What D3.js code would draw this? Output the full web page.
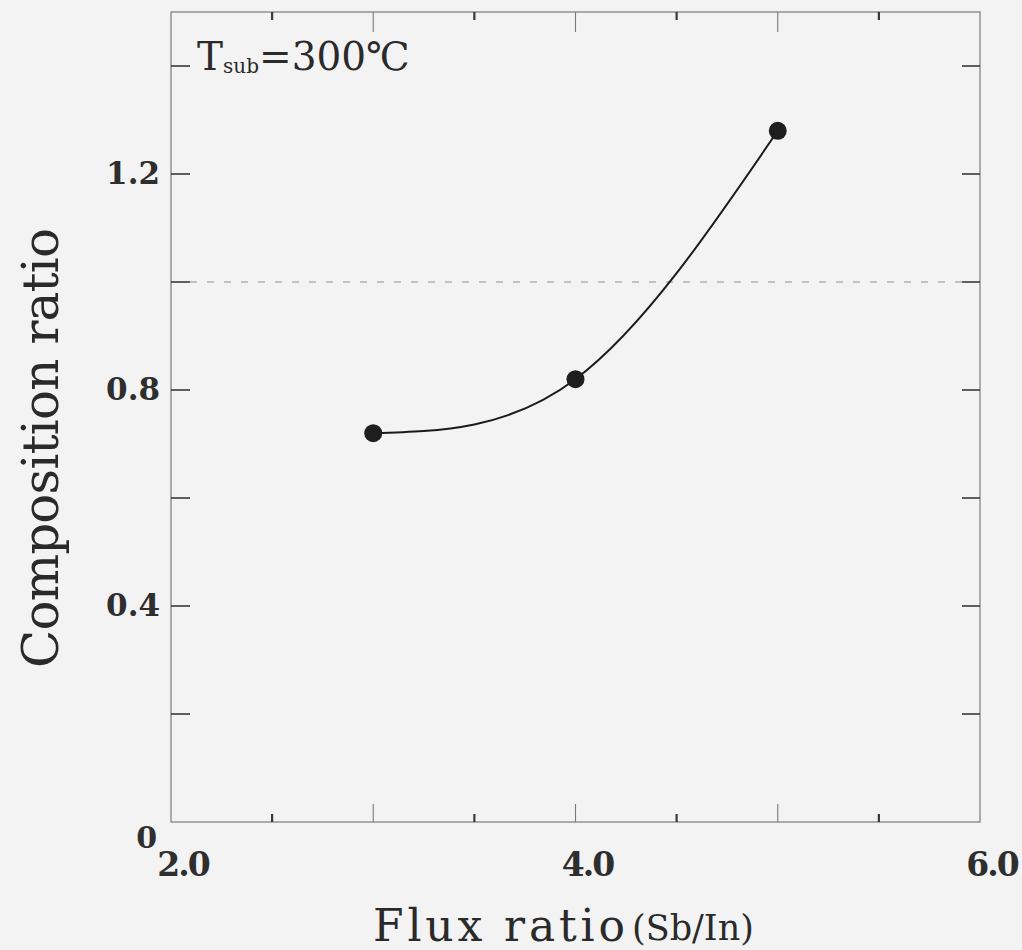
<!DOCTYPE html>
<html>
<head>
<meta charset="utf-8">
<script src="https://cdn.jsdelivr.net/npm/d3@7"></script>
<style>
  html, body { margin: 0; padding: 0; background: #f3f3f3; }
  svg { display: block; }
</style>
</head>
<body>
<script>
// ---- data ----
const fluxRatio = [3.0, 4.0, 5.0];
const compositionRatio = [0.72, 0.82, 1.28];
const xTickLabels = ["2.0", "4.0", "6.0"];
const xTickLabelValues = [2, 4, 6];
const yTickLabels = ["0.4", "0.8", "1.2"];
const yTickLabelValues = [0.4, 0.8, 1.2];
const stoichiometricLine = [1.0];
const annotation = { main: "T", sub: "sub", rest: "=300℃" };

const W = 1022, H = 950;
const margin = { left: 171, right: 42, top: 12, bottom: 128 };

const svg = d3.select("body").append("svg").attr("width", W).attr("height", H);
svg.append("rect").attr("width", W).attr("height", H).attr("fill", "#f3f3f3");

const x = d3.scaleLinear().domain([2, 6]).range([margin.left, W - margin.right]);
const y = d3.scaleLinear().domain([0, 1.5]).range([H - margin.bottom, margin.top]);

const serif = "'DejaVu Serif', 'Liberation Serif', serif";
const frameColor = "#7a7a7a";
const tickColor = "#3a3a3a";

// frame
svg.append("rect")
  .attr("x", x(2)).attr("y", y(1.5))
  .attr("width", x(6) - x(2)).attr("height", y(0) - y(1.5))
  .attr("fill", "none").attr("stroke", frameColor).attr("stroke-width", 1.2);

// x ticks (bottom and top)
const xMajor = d3.range(3, 6, 1);
const xMinor = d3.range(2.5, 6, 1);
const gx = svg.append("g");
xMajor.forEach(v => {
  gx.append("line").attr("x1", x(v)).attr("x2", x(v)).attr("y1", y(0)).attr("y2", y(0) - 18)
    .attr("stroke", frameColor).attr("stroke-width", 1.1);
  gx.append("line").attr("x1", x(v)).attr("x2", x(v)).attr("y1", y(1.5)).attr("y2", y(1.5) + 20)
    .attr("stroke", frameColor).attr("stroke-width", 1.1);
});
xMinor.forEach(v => {
  gx.append("line").attr("x1", x(v)).attr("x2", x(v)).attr("y1", y(0)).attr("y2", y(0) - 8)
    .attr("stroke", tickColor).attr("stroke-width", 2.2);
  gx.append("line").attr("x1", x(v)).attr("x2", x(v)).attr("y1", y(1.5)).attr("y2", y(1.5) + 8)
    .attr("stroke", tickColor).attr("stroke-width", 2.2);
});

// y ticks (left and right)
const yTicks = d3.range(0.2, 1.5, 0.2);
const gy = svg.append("g");
yTicks.forEach(v => {
  gy.append("line").attr("x1", x(2)).attr("x2", x(2) + 19).attr("y1", y(v)).attr("y2", y(v))
    .attr("stroke", tickColor).attr("stroke-width", 1.6);
  gy.append("line").attr("x1", x(6)).attr("x2", x(6) - 18).attr("y1", y(v)).attr("y2", y(v))
    .attr("stroke", tickColor).attr("stroke-width", 1.6);
});

// dashed reference line
svg.selectAll(".ref").data(stoichiometricLine).enter().append("line")
  .attr("x1", x(2) + 19).attr("x2", x(6) - 18)
  .attr("y1", d => y(d)).attr("y2", d => y(d))
  .attr("stroke", "#b4b4b4").attr("stroke-width", 1.3).attr("stroke-dasharray", "7,10");

// y tick labels
svg.selectAll(".ylab").data(yTickLabelValues).enter().append("text")
  .attr("x", 160).attr("y", d => y(d) + 10)
  .attr("text-anchor", "end")
  .attr("font-family", serif).attr("font-weight", "bold").attr("font-size", 31)
  .attr("fill", "#2e2e2e")
  .text((d, i) => yTickLabels[i]);

// "0" label at origin
svg.append("text").attr("x", 157).attr("y", y(0) + 26)
  .attr("text-anchor", "end")
  .attr("font-family", serif).attr("font-weight", "bold").attr("font-size", 30)
  .attr("fill", "#2e2e2e").text("0");

// x tick labels
svg.selectAll(".xlab").data(xTickLabelValues).enter().append("text")
  .attr("x", d => x(d) + 12).attr("y", y(0) + 54)
  .attr("text-anchor", "middle")
  .attr("font-family", serif).attr("font-weight", "bold").attr("font-size", 33)
  .attr("letter-spacing", -2)
  .attr("fill", "#2e2e2e")
  .text((d, i) => xTickLabels[i]);

// curve
const pts = fluxRatio.map((v, i) => [v, compositionRatio[i]]);
const line = d3.line().x(d => x(d[0])).y(d => y(d[1])).curve(d3.curveNatural);
svg.append("path").attr("d", line(pts))
  .attr("fill", "none").attr("stroke", "#1a1a1a").attr("stroke-width", 2);

// markers
svg.selectAll(".pt").data(pts).enter().append("circle")
  .attr("cx", d => x(d[0])).attr("cy", d => y(d[1])).attr("r", 9)
  .attr("fill", "#1e1e1e");

// annotation
const ann = svg.append("text").attr("x", 197).attr("y", 70)
  .attr("font-family", serif).attr("fill", "#2a2a2a");
ann.append("tspan").attr("font-size", 39).text(annotation.main);
ann.append("tspan").attr("font-size", 20).attr("dy", 3).text(annotation.sub);
ann.append("tspan").attr("font-size", 39).attr("dy", -3).text(annotation.rest);

// x axis title
svg.append("text").attr("x", 373).attr("y", 941)
  .attr("font-family", serif).attr("fill", "#2a2a2a")
  .attr("font-size", 44).attr("textLength", 252).attr("lengthAdjust", "spacing")
  .text("Flux ratio");
svg.append("text").attr("x", 632).attr("y", 940)
  .attr("font-family", serif).attr("fill", "#2a2a2a")
  .attr("font-size", 35)
  .text("(Sb/In)");

// y axis title
svg.append("text")
  .attr("transform", "translate(58,668) rotate(-90)")
  .attr("font-family", serif).attr("font-size", 50).attr("fill", "#2a2a2a")
  .attr("textLength", 440).attr("lengthAdjust", "spacing")
  .text("Composition ratio");
</script>
</body>
</html>
